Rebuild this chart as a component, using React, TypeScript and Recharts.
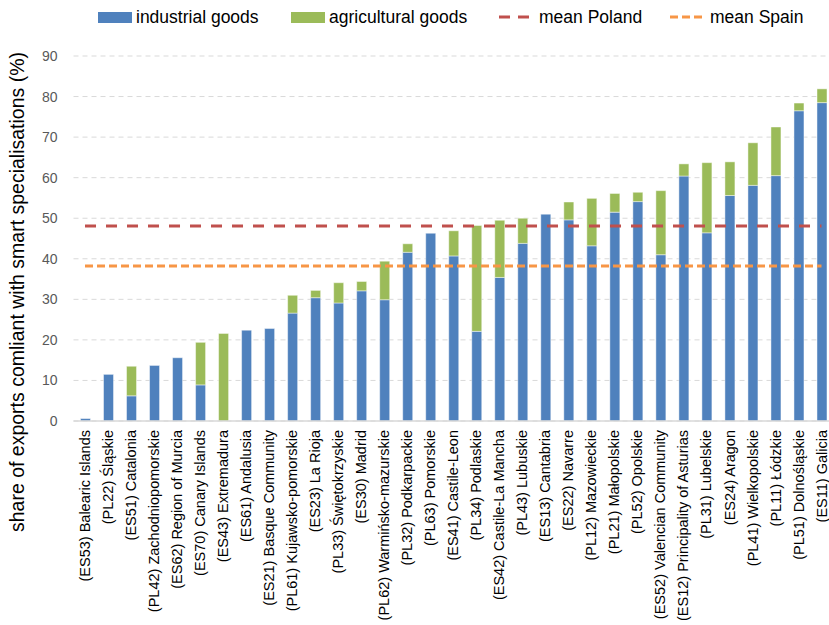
import React from "react";
import {
  ComposedChart,
  Bar,
  Line,
  XAxis,
  YAxis,
  CartesianGrid,
} from "recharts";

const regions = [
  "(ES53) Balearic Islands",
  "(PL22) Śląskie",
  "(ES51) Catalonia",
  "(PL42) Zachodniopomorskie",
  "(ES62) Region of Murcia",
  "(ES70) Canary Islands",
  "(ES43) Extremadura",
  "(ES61) Andalusia",
  "(ES21) Basque Community",
  "(PL61) Kujawsko-pomorskie",
  "(ES23) La Rioja",
  "(PL33) Świętokrzyskie",
  "(ES30) Madrid",
  "(PL62) Warmińsko-mazurskie",
  "(PL32) Podkarpackie",
  "(PL63) Pomorskie",
  "(ES41) Castile-Leon",
  "(PL34) Podlaskie",
  "(ES42) Castile-La Mancha",
  "(PL43) Lubuskie",
  "(ES13) Cantabria",
  "(ES22) Navarre",
  "(PL12) Mazowieckie",
  "(PL21) Małopolskie",
  "(PL52) Opolskie",
  "(ES52) Valencian Community",
  "(ES12) Principality of Asturias",
  "(PL31) Lubelskie",
  "(ES24) Aragon",
  "(PL41) Wielkopolskie",
  "(PL11) Łódzkie",
  "(PL51) Dolnośląskie",
  "(ES11) Galicia",
];

const industrial = [
  0.6, 11.5, 6.2, 13.7, 15.6, 8.9, 0, 22.4, 22.8, 26.6, 30.4, 29.1, 32.1, 29.9,
  41.6, 46.3, 40.7, 22.1, 35.4, 43.8, 51.0, 49.6, 43.2, 51.5, 54.1, 41.0, 60.4,
  46.4, 55.6, 58.1, 60.5, 76.5, 78.5,
];

const agricultural = [
  0, 0, 7.3, 0, 0, 10.5, 21.6, 0, 0, 4.4, 1.8, 5.0, 2.3, 9.5, 2.1, 0, 6.2, 26.1,
  14.1, 6.2, 0, 4.4, 11.7, 4.6, 2.3, 15.8, 3.0, 17.3, 8.3, 10.5, 12.0, 1.9, 3.4,
];

const meanPoland = 48.1;
const meanSpain = 38.2;

const yTicks = [0, 10, 20, 30, 40, 50, 60, 70, 80, 90];

const BLUE = "#4F81BD";
const GREEN = "#9BBB59";
const RED = "#C0504D";
const ORANGE = "#F79646";
const FONT = "'Liberation Sans', Arial, sans-serif";

const data = regions.map((region, i) => ({
  region,
  industrial: industrial[i],
  agricultural: agricultural[i],
  meanPoland,
  meanSpain,
}));

const RegionTick = (props: any) => {
  const { x, y, payload } = props;
  return (
    <g transform={`translate(${x},${y})`}>
      <text
        transform="rotate(-90)"
        x={-1}
        y={0}
        dy="0.35em"
        textAnchor="end"
        fontSize={14.5}
        fontFamily={FONT}
        fill="#000"
      >
        {payload.value}
      </text>
    </g>
  );
};

const legendItems = [
  { label: "industrial goods", color: BLUE, kind: "box", left: 98 },
  { label: "agricultural goods", color: GREEN, kind: "box", left: 291 },
  { label: "mean Poland", color: RED, kind: "dash", left: 499 },
  { label: "mean Spain", color: ORANGE, kind: "dot", left: 670 },
];

export default function App() {
  return (
    <div
      style={{
        position: "absolute",
        left: 0,
        top: 0,
        width: 829,
        height: 625,
        overflow: "hidden",
        background: "#fff",
        fontFamily: FONT,
      }}
    >
      {legendItems.map((item) => (
        <div
          key={item.label}
          style={{
            position: "absolute",
            left: item.left,
            top: 6,
            height: 22,
            display: "flex",
            alignItems: "center",
            fontSize: 17.5,
            color: "#000",
            whiteSpace: "nowrap",
          }}
        >
          {item.kind === "box" ? (
            <div
              style={{ width: 34, height: 11, background: item.color, marginRight: 4 }}
            />
          ) : (
            <svg width={34} height={6} style={{ marginRight: 6 }}>
              <line
                x1={0}
                y1={3}
                x2={34}
                y2={3}
                stroke={item.color}
                strokeWidth={3}
                strokeDasharray={item.kind === "dash" ? "11 8" : "8 4"}
              />
            </svg>
          )}
          {item.label}
        </div>
      ))}
      <div
        style={{
          position: "absolute",
          left: 17 - 300,
          top: 292 - 11,
          width: 600,
          height: 22,
          lineHeight: "22px",
          textAlign: "center",
          fontSize: 19.5,
          color: "#000",
          transform: "rotate(-90deg)",
          whiteSpace: "nowrap",
        }}
      >
        share of exports comliant with smart specialisations (%)
      </div>
      <ComposedChart
        width={833}
        height={625}
        data={data}
        margin={{ top: 56, right: 0, bottom: 0, left: 0 }}
        barCategoryGap={0}
      >
        <CartesianGrid
          vertical={false}
          stroke="#d9d9d9"
          strokeDasharray="5 4"
        />
        <XAxis
          dataKey="region"
          interval={0}
          height={204}
          tickLine={false}
          axisLine={{ stroke: "#d9d9d9", strokeWidth: 1.5 }}
          tick={<RegionTick />}
        />
        <YAxis
          width={73.5}
          domain={[0, 90]}
          ticks={yTicks}
          interval={0}
          tickLine={false}
          axisLine={false}
          tickMargin={10}
          tick={{ fontSize: 14, fill: "#595959", fontFamily: FONT }}
        />
        <Bar
          dataKey="industrial"
          stackId="a"
          fill={BLUE}
          stroke="rgba(255,255,255,0.45)"
          strokeWidth={1}
          barSize={10}
          isAnimationActive={false}
        />
        <Bar
          dataKey="agricultural"
          stackId="a"
          fill={GREEN}
          stroke="rgba(255,255,255,0.45)"
          strokeWidth={1}
          barSize={10}
          isAnimationActive={false}
        />
        <Line
          dataKey="meanPoland"
          type="linear"
          stroke={RED}
          strokeWidth={3}
          strokeDasharray="11 10"
          dot={false}
          activeDot={false}
          isAnimationActive={false}
        />
        <Line
          dataKey="meanSpain"
          type="linear"
          stroke={ORANGE}
          strokeWidth={3}
          strokeDasharray="8 4"
          dot={false}
          activeDot={false}
          isAnimationActive={false}
        />
      </ComposedChart>
    </div>
  );
}
